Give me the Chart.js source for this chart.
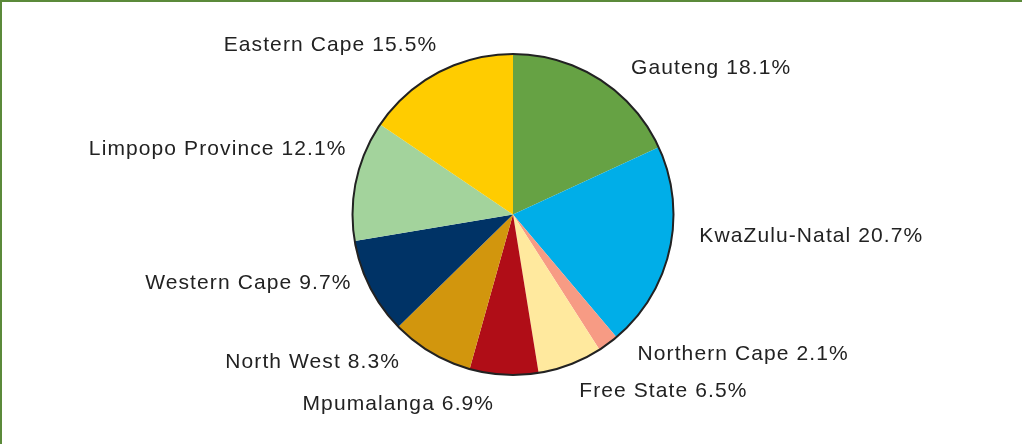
<!DOCTYPE html>
<html>
<head>
<meta charset="utf-8">
<script src="https://cdn.jsdelivr.net/npm/chart.js@4"></script>
<style>
  html, body { margin: 0; padding: 0; background: #fff; }
  #quadro {
    position: relative;
    width: 1022px;
    height: 444px;
    box-sizing: border-box;
    border-top: 2px solid #5b8a3a;
    border-left: 2px solid #5b8a3a;
  }
  canvas { display: block; }
</style>
</head>
<body>
<div id="quadro"><canvas id="grafico" width="1020" height="442"></canvas></div>
<script>
// dados (em sentido horario a partir do topo)
const provincias = ['Gauteng', 'KwaZulu-Natal', 'Northern Cape', 'Free State', 'Mpumalanga',
    'North West', 'Western Cape', 'Limpopo Province', 'Eastern Cape'];
const percentuais = [18.1, 20.7, 2.1, 6.5, 6.9, 8.3, 9.7, 12.1, 15.5];
const cores = ['#66a244', '#00aee8', '#f79b84', '#ffe99e', '#b00d17',
    '#d2960d', '#003366', '#a3d39c', '#ffcc00'];

// ajuste fino dos rotulos (px) em relacao ao ponto no meio da fatia
const ajusteRotulo = [[24, 1], [16, -16], [21, -1], [4, 14], [-9, 15],
    [-24, -2], [-6, -10], [4, -28], [6, -15]];

const rotulosPlugin = {
    id: 'rotulos',
    afterDatasetsDraw(chart) {
        const ctx = chart.ctx;
        const arcos = chart.getDatasetMeta(0).data;
        if (!arcos.length) return;
        const a0 = arcos[0];
        // contorno do circulo
        ctx.save();
        ctx.beginPath();
        ctx.arc(a0.x, a0.y, a0.outerRadius, 0, Math.PI * 2);
        ctx.lineWidth = 2;
        ctx.strokeStyle = '#222';
        ctx.stroke();

        ctx.font = '21px "Liberation Sans"';
        ctx.letterSpacing = '1.1px';
        ctx.fillStyle = '#222';
        ctx.textBaseline = 'middle';
        arcos.forEach((arco, i) => {
            const meio = (arco.startAngle + arco.endAngle) / 2;
            const r = arco.outerRadius + 14;
            const px = arco.x + Math.cos(meio) * r + ajusteRotulo[i][0];
            const py = arco.y + Math.sin(meio) * r + ajusteRotulo[i][1];
            ctx.textAlign = Math.cos(meio) >= 0 ? 'left' : 'right';
            ctx.fillText(provincias[i] + ' ' + percentuais[i].toFixed(1) + '%', px, py);
        });
        ctx.restore();
    }
};

new Chart(document.getElementById('grafico'), {
    type: 'pie',
    data: {
        labels: provincias,
        datasets: [{
            data: percentuais,
            backgroundColor: cores,
            borderWidth: 0
        }]
    },
    options: {
        responsive: false,
        animation: false,
        layout: { padding: { top: 52, bottom: 69, left: 2, right: 0 } },
        plugins: {
            legend: { display: false },
            tooltip: { enabled: false }
        }
    },
    plugins: [rotulosPlugin]
});
</script>
</body>
</html>
